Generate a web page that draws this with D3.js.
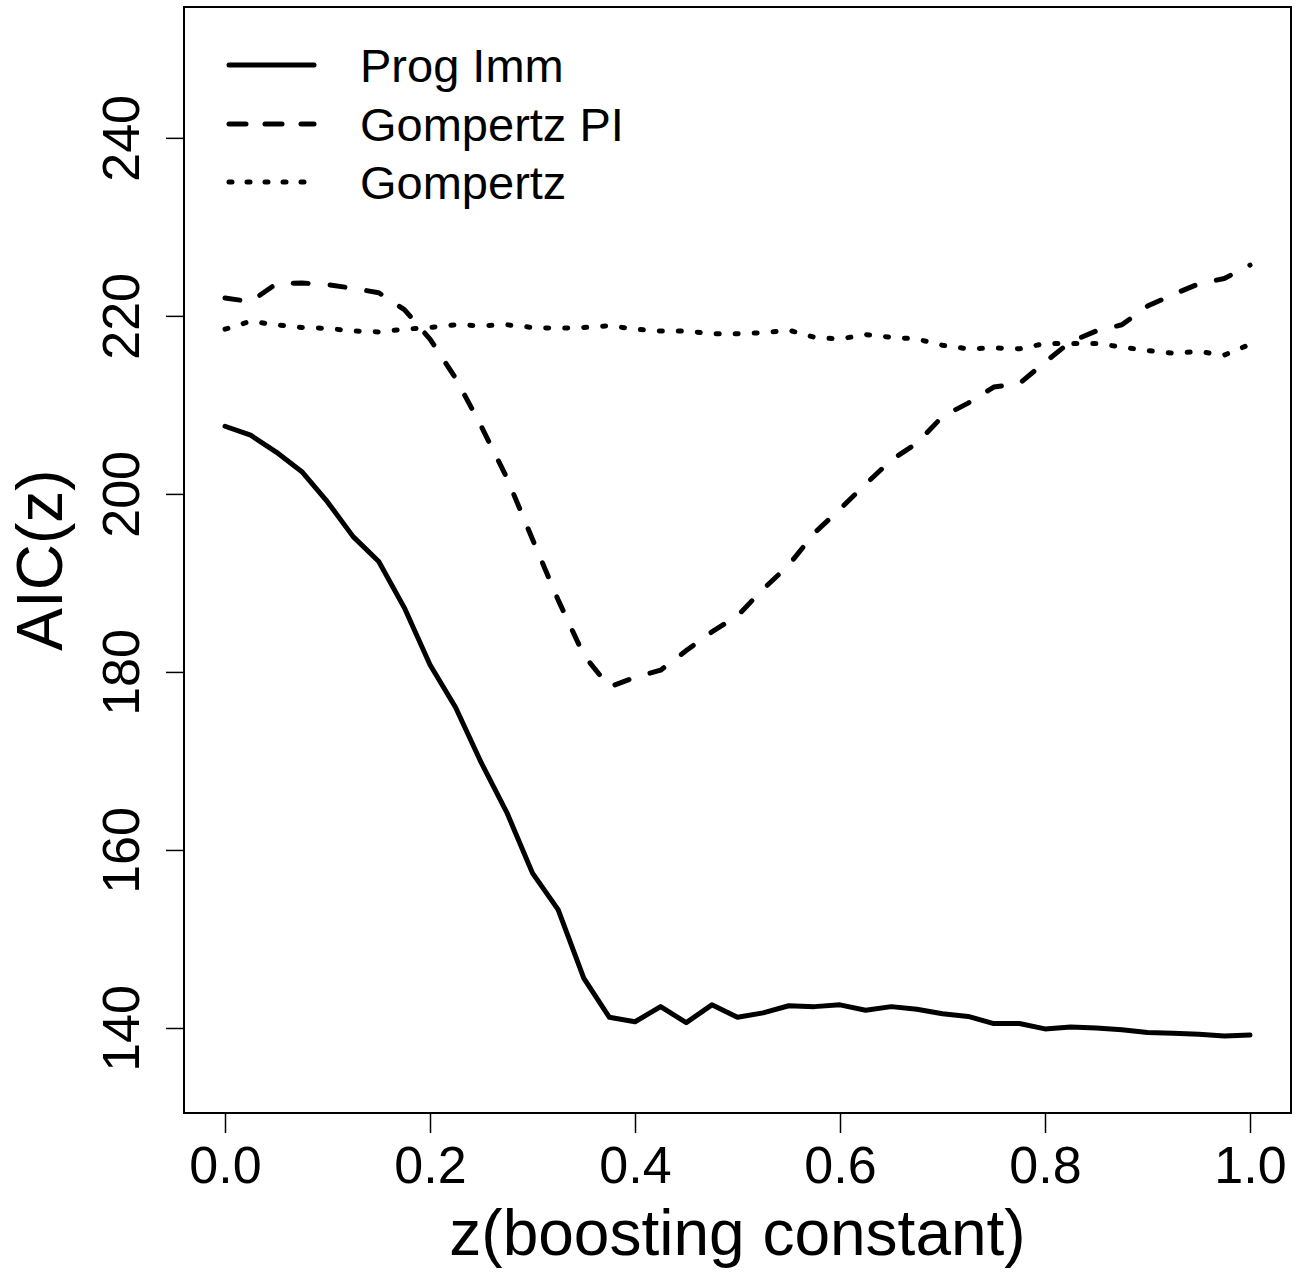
<!DOCTYPE html>
<html>
<head>
<meta charset="utf-8">
<script src="https://cdn.jsdelivr.net/npm/d3@7"></script>
<style>
  body { margin: 0; background: #fff; }
  text { font-family: "Liberation Sans", Arial, Helvetica, sans-serif; fill: #000; }
</style>
</head>
<body>
<svg id="chart" width="1304" height="1272"></svg>
<script>
// z grid (boosting constant)
const zValues = [0, 0.025, 0.05, 0.075, 0.1, 0.125, 0.15, 0.175, 0.2, 0.225,
    0.25, 0.275, 0.3, 0.325, 0.35, 0.375, 0.4, 0.425, 0.45, 0.475,
    0.5, 0.525, 0.55, 0.575, 0.6, 0.625, 0.65, 0.675, 0.7, 0.725,
    0.75, 0.775, 0.8, 0.825, 0.85, 0.875, 0.9, 0.925, 0.95, 0.975, 1.0]

const progImm = [207.6, 206.6, 204.7, 202.5, 199.1, 195.2, 192.4, 187.2, 180.8, 176.0,
    169.8, 164.2, 157.4, 153.3, 145.6, 141.2, 140.7, 142.4, 140.6, 142.6,
    141.2, 141.7, 142.5, 142.4, 142.6, 142.0, 142.4, 142.1, 141.6, 141.3,
    140.5, 140.5, 139.9, 140.1, 140.0, 139.8, 139.5, 139.4, 139.3, 139.1, 139.2]

const gompertzPI = [222.0, 221.6, 223.6, 223.7, 223.5, 223.1, 222.6, 220.7, 217.4, 213.0,
    207.6, 201.8, 194.9, 188.1, 181.9, 178.3, 179.4, 180.2, 182.4, 184.5,
    186.3, 189.3, 192.0, 195.6, 198.3, 201.1, 203.8, 205.7, 208.7, 210.2,
    212.0, 212.4, 214.8, 217.1, 218.3, 219.0, 221.1, 222.4, 223.6, 224.2, 225.7]

const gompertz = [218.5, 219.4, 219.0, 218.7, 218.6, 218.3, 218.2, 218.5, 218.7, 219.0,
    218.9, 219.0, 218.7, 218.6, 218.7, 218.9, 218.5, 218.3, 218.3, 218.0,
    218.0, 218.1, 218.4, 217.6, 217.4, 217.9, 217.6, 217.4, 216.7, 216.3,
    216.4, 216.3, 216.9, 216.9, 216.9, 216.5, 216.1, 215.8, 216.0, 215.6, 216.8]

const seriesNames = ['Prog Imm', 'Gompertz PI', 'Gompertz']
const xTicks = [0, 0.2, 0.4, 0.6, 0.8, 1.0]
const yTicks = [140, 160, 180, 200, 220, 240]

const svg = d3.select('#chart')
const margin = { top: 7, right: 13, bottom: 159, left: 184 }
const width = +svg.attr('width')
const height = +svg.attr('height')
const innerWidth = width - margin.left - margin.right
const innerHeight = height - margin.top - margin.bottom

const xScale = d3.scaleLinear()
    .domain([-0.04, 1.04])
    .range([0, innerWidth])

const yScale = d3.scaleLinear()
    .domain([130.45, 254.7])
    .range([innerHeight, 0])

const g = svg.append('g')
    .attr('transform', `translate(${margin.left},${margin.top})`)

// x axis
const xAxisG = g.append('g')
    .attr('transform', `translate(0,${innerHeight})`)
    .call(d3.axisBottom(xScale).tickValues(xTicks).tickSize(20).tickFormat(d3.format('.1f')))
xAxisG.select('.domain').remove()
xAxisG.selectAll('.tick line').attr('stroke', '#000').attr('stroke-width', 1.5)
xAxisG.selectAll('.tick text')
    .attr('y', 70)
    .attr('dy', 0)
    .attr('font-size', 52)
    .attr('fill', '#000')

// y axis, labels parallel to the axis
const yAxisG = g.append('g')
    .call(d3.axisLeft(yScale).tickValues(yTicks).tickSize(18))
yAxisG.select('.domain').remove()
yAxisG.selectAll('.tick line').attr('stroke', '#000').attr('stroke-width', 1.5)
yAxisG.selectAll('.tick text')
    .attr('x', 0)
    .attr('dy', 0)
    .attr('transform', 'translate(-45,0) rotate(-90)')
    .attr('text-anchor', 'middle')
    .attr('font-size', 52)
    .attr('fill', '#000')

// box
g.append('rect')
    .attr('width', innerWidth)
    .attr('height', innerHeight)
    .attr('fill', 'none')
    .attr('stroke', '#000')
    .attr('stroke-width', 2)

// axis titles
svg.append('text')
    .attr('x', margin.left + innerWidth / 2)
    .attr('y', 1255)
    .attr('text-anchor', 'middle')
    .attr('font-size', 64)
    .text('z(boosting constant)')

svg.append('text')
    .attr('transform', `translate(62,${margin.top + innerHeight / 2}) rotate(-90)`)
    .attr('text-anchor', 'middle')
    .attr('font-size', 64)
    .text('AIC(z)')

// lines
const dashes = ['none', '15 22', '3 16']
const allSeries = [progImm, gompertzPI, gompertz]

const lineGenerator = d3.line()
    .x(d => xScale(d[0]))
    .y(d => yScale(d[1]))

allSeries.forEach((values, i) => {
    g.append('path')
        .attr('d', lineGenerator(zValues.map((z, j) => [z, values[j]])))
        .attr('fill', 'none')
        .attr('stroke', '#000')
        .attr('stroke-width', 5)
        .attr('stroke-linecap', 'round')
        .attr('stroke-linejoin', 'round')
        .attr('stroke-dasharray', dashes[i])
})

// legend
const legendY = [65, 124, 182]
const legendDashes = ['none', '17 19', '3 15']
seriesNames.forEach((name, i) => {
    svg.append('line')
        .attr('x1', 229).attr('x2', 314)
        .attr('y1', legendY[i]).attr('y2', legendY[i])
        .attr('stroke', '#000')
        .attr('stroke-width', 5)
        .attr('stroke-linecap', 'round')
        .attr('stroke-dasharray', legendDashes[i])
    svg.append('text')
        .attr('x', 360)
        .attr('y', legendY[i] + 17)
        .attr('font-size', 47)
        .text(name)
})
</script>
</body>
</html>
